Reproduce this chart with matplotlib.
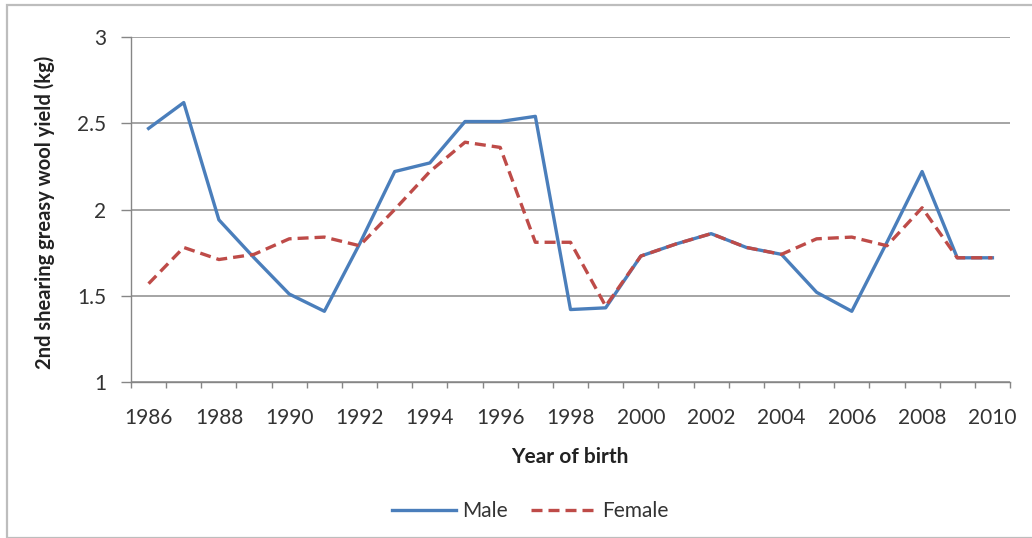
import matplotlib
matplotlib.use("Agg")
import matplotlib.pyplot as plt
from matplotlib.patches import Rectangle

plt.rcParams['font.family'] = ['Lato', 'DejaVu Sans']

years = list(range(1986, 2011))
male = [2.47, 2.62, 1.94, 1.72, 1.51, 1.41, 1.80, 2.22, 2.27, 2.51, 2.51, 2.54,
        1.42, 1.43, 1.73, 1.80, 1.86, 1.78, 1.74, 1.52, 1.41, 1.81, 2.22, 1.72, 1.72]
female = [1.57, 1.78, 1.71, 1.74, 1.83, 1.84, 1.79, 2.00, 2.22, 2.39, 2.36, 1.81,
          1.81, 1.44, 1.73, 1.80, 1.86, 1.78, 1.74, 1.83, 1.84, 1.79, 2.01, 1.72, 1.72]
yticks = [1, 1.5, 2, 2.5, 3]
ytick_labels = ['1', '1.5', '2', '2.5', '3']

W, H = 1032, 538
fig = plt.figure(figsize=(W / 100, H / 100), dpi=100)
ax = fig.add_axes([131 / W, 1 - 382 / H, (1010 - 131) / W, (382 - 37) / H])

x = list(range(len(years)))
ax.plot(x, male, color='#4a7ebb', lw=2.4, label='Male')
ax.plot(x, female, color='#be4b48', lw=2.4, dashes=(3.3, 1.8), label='Female')

ax.set_xlim(-0.5, len(years) - 0.5)
ax.set_ylim(1, 3)
ax.set_yticks(yticks)
ax.set_yticklabels(ytick_labels)
ax.set_xticks(x[::2])
ax.set_xticklabels([str(y) for y in years[::2]])
ax.set_xticks([i - 0.5 for i in range(len(years) + 1)], minor=True)

ax.grid(axis='y', color='#8c8c8c', lw=1.1)
ax.set_axisbelow(True)
for s in ['top', 'right']:
    ax.spines[s].set_visible(False)
for s in ['left', 'bottom']:
    ax.spines[s].set_color('#868686')
    ax.spines[s].set_linewidth(1.0)

ax.tick_params(axis='y', length=7, width=1, color='#868686', pad=11,
               labelsize=15, labelcolor='#333333')
ax.tick_params(axis='x', which='major', length=0, pad=19, labelsize=15,
               labelcolor='#333333')
ax.tick_params(axis='x', which='minor', length=4, width=1, color='#868686')

fig.text(45 / W, 1 - 212 / H, '2nd shearing greasy wool yield (kg)', rotation=90,
         ha='center', va='center', fontsize=14.5, fontweight='bold', color='#222222')
fig.text(570 / W, 1 - 457 / H, 'Year of birth', ha='center', va='center',
         fontsize=15, fontweight='bold', color='#222222')

leg = fig.legend(loc='center', bbox_to_anchor=(530 / W, 1 - 511 / H), ncol=2,
                 frameon=False, fontsize=15, handlelength=3.1, handletextpad=0.3,
                 columnspacing=1.1)
for t in leg.get_texts():
    t.set_color('#333333')

fig.patches.append(Rectangle((7 / W, 0 / H), 1.2, 1 - 5 / H,
                             transform=fig.transFigure, fill=False,
                             edgecolor='#bdbdbd', lw=1.6))

fig.savefig('out.png', dpi=100)
